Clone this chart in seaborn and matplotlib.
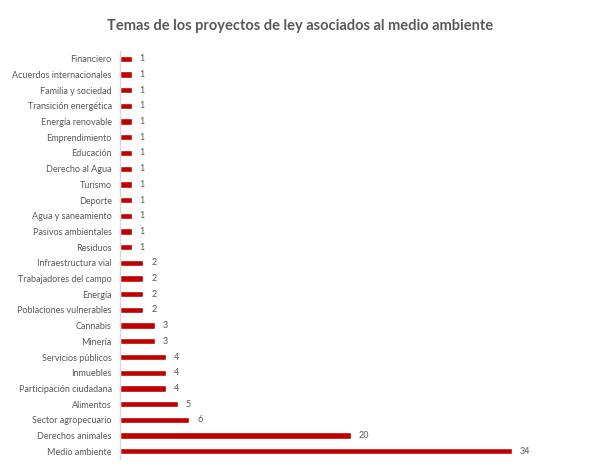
import matplotlib

matplotlib.use("Agg")
import matplotlib.pyplot as plt
import pandas as pd
import seaborn as sns

# ---- Data ---------------------------------------------------------------- #
temas = [
    "Financiero", "Acuerdos internacionales", "Familia y sociedad",
    "Transición energética", "Energía renovable", "Emprendimiento",
    "Educación", "Derecho al Agua", "Turismo", "Deporte",
    "Agua y saneamiento", "Pasivos ambientales", "Residuos",
    "Infraestructura vial", "Trabajadores del campo", "Energía",
    "Poblaciones vulnerables", "Cannabis", "Minería", "Servicios públicos",
    "Inmuebles", "Participación ciudadana", "Alimentos",
    "Sector agropecuario", "Derechos animales", "Medio ambiente",
]
cantidades = [1, 1, 1, 1, 1, 1, 1, 1, 1, 1, 1, 1, 1,
              2, 2, 2, 2, 3, 3, 4, 4, 4, 5, 6, 20, 34]

df = pd.DataFrame({"tema": temas, "n": cantidades})

sns.set_style("white")
plt.rcParams["font.family"] = ["Lato", "DejaVu Sans"]

fig = plt.figure(figsize=(6.01, 4.66), dpi=100)
ax = fig.add_axes([0.1997, 0.015, 0.7673, 0.8756])

sns.barplot(data=df, x="n", y="tema", order=temas, color="#C00000",
            width=0.4, saturation=1, ax=ax)

for i, v in enumerate(cantidades):
    ax.text(v + 0.7, i, str(v), va="center", ha="left",
            fontsize=6.5, color="#595959")

ax.set_xlim(0, 40)
ax.set_ylim(len(temas) - 0.5, -0.5)
ax.set_xlabel("")
ax.set_ylabel("")
ax.set_xticks([])
ax.tick_params(axis="y", length=0, pad=6, labelsize=6.5, labelcolor="#595959")
for side in ["top", "right", "bottom"]:
    ax.spines[side].set_visible(False)
ax.spines["left"].set_color("#D9D9D9")
ax.spines["left"].set_linewidth(1)

fig.text(0.5, 0.945, "Temas de los proyectos de ley asociados al medio ambiente",
         ha="center", va="center", fontsize=10.5, fontweight="bold",
         color="#595959")

fig.savefig("out.png", dpi=100)
